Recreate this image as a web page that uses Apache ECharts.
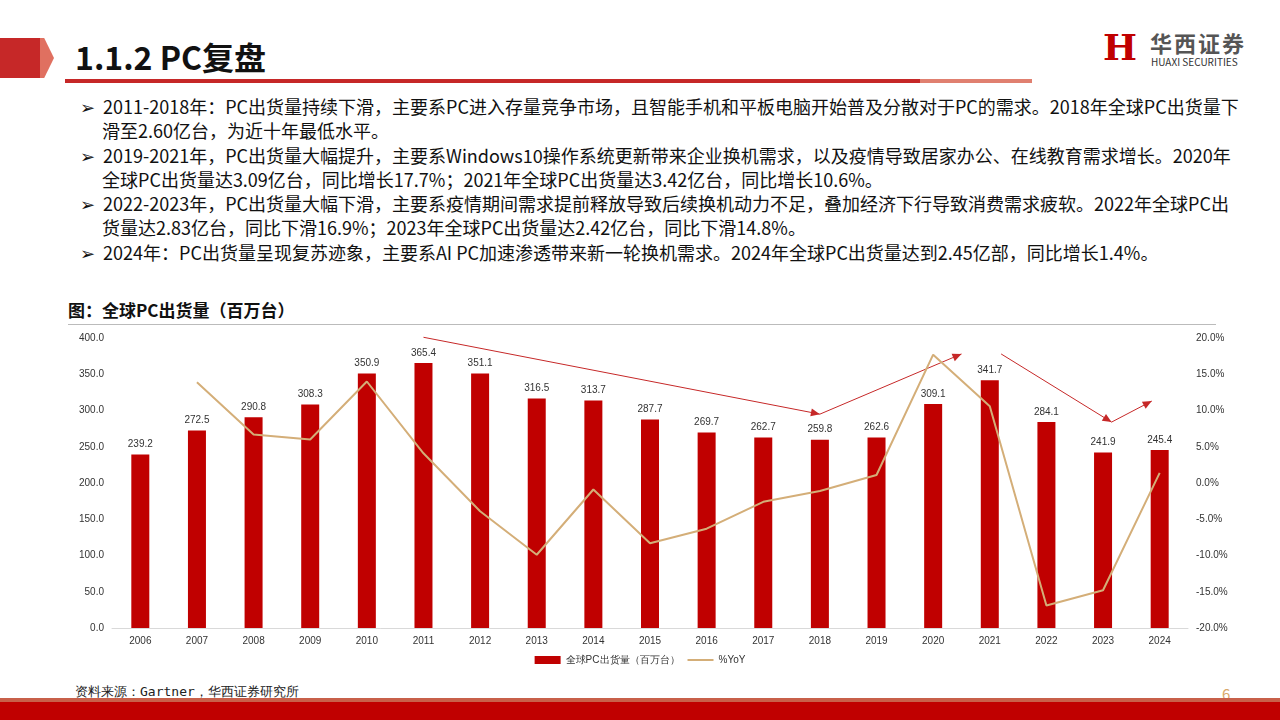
<!DOCTYPE html>
<html><head><meta charset="utf-8">
<script src="https://cdn.jsdelivr.net/npm/echarts@6/dist/echarts.min.js"></script>
<style>
body{margin:0;width:1280px;height:720px;overflow:hidden;background:#fff;font-family:"Noto Sans CJK SC","Noto Sans",sans-serif;position:relative}
.abs{position:absolute}
#txt{left:80px;top:94px;width:1160px;font-size:18px;line-height:24px;color:#111}
#txt p{margin:0 0 0.5px 0;padding-left:22px;text-indent:-22px}
</style></head><body>
<div class="abs" style="left:0;top:38px;width:52px;height:40px;background:#C62828;clip-path:polygon(0 0,80% 0,100% 50%,80% 100%,0 100%)"></div>
<div class="abs" style="left:40px;top:38px;width:14px;height:40px;background:#E07060;clip-path:polygon(0 0,30% 0,100% 50%,30% 100%,0 100%)"></div>
<div class="abs" style="left:75px;top:33px;font-size:32px;font-weight:bold;color:#111">1.1.2 PC复盘</div>
<div class="abs" style="left:65px;top:79px;width:855px;height:4px;background:#C62828"></div>
<div class="abs" style="left:920px;top:79px;width:112px;height:4px;background:#E08070"></div>
<div class="abs" style="left:1103px;top:28px;width:34px;height:38px;font-size:36px;font-weight:bold;color:#C00000;line-height:38px;font-family:'DejaVu Serif',serif">H</div>
<div class="abs" style="left:1150px;top:26px;font-size:22px;font-weight:bold;color:#555;letter-spacing:2px;font-family:'Noto Sans CJK SC'">华西证券</div>
<div class="abs" style="left:1151px;top:54px;font-size:10px;color:#333">HUAXI SECURITIES</div>
<div id="txt" class="abs">
<p>➢&nbsp;&nbsp;2011-2018年：PC出货量持续下滑，主要系PC进入存量竞争市场，且智能手机和平板电脑开始普及分散对于PC的需求。2018年全球PC出货量下滑至2.60亿台，为近十年最低水平。</p>
<p>➢&nbsp;&nbsp;2019-2021年，PC出货量大幅提升，主要系Windows10操作系统更新带来企业换机需求，以及疫情导致居家办公、在线教育需求增长。2020年全球PC出货量达3.09亿台，同比增长17.7%；2021年全球PC出货量达3.42亿台，同比增长10.6%。</p>
<p>➢&nbsp;&nbsp;2022-2023年，PC出货量大幅下滑，主要系疫情期间需求提前释放导致后续换机动力不足，叠加经济下行导致消费需求疲软。2022年全球PC出货量达2.83亿台，同比下滑16.9%；2023年全球PC出货量达2.42亿台，同比下滑14.8%。</p>
<p>➢&nbsp;&nbsp;2024年：PC出货量呈现复苏迹象，主要系AI PC加速渗透带来新一轮换机需求。2024年全球PC出货量达到2.45亿部，同比增长1.4%。</p>
</div>
<div class="abs" style="left:68px;top:297px;font-size:17px;font-weight:bold;color:#111">图：全球PC出货量（百万台）</div>
<div class="abs" style="left:68px;top:324px;width:1148px;height:1px;background:#bbb"></div>
<div id="c" class="abs" style="left:0;top:325px;width:1280px;height:355px"></div>
<div class="abs" style="left:75px;top:683px;font-size:13px;color:#222;font-family:'DejaVu Sans Mono',monospace">资料来源：Gartner，华西证券研究所</div>
<div class="abs" style="left:1222px;top:683px;font-size:15px;color:#D9A86C">6</div>
<div class="abs" style="left:0;top:698px;width:1280px;height:4px;background:#C8604A"></div>
<div class="abs" style="left:0;top:702px;width:1280px;height:18px;background:#C00000"></div>
<script>
const years=['2006','2007','2008','2009','2010','2011','2012','2013','2014','2015','2016','2017','2018','2019','2020','2021','2022','2023','2024'];
const shipments=[239.2,272.5,290.8,308.3,350.9,365.4,351.1,316.5,313.7,287.7,269.7,262.7,259.8,262.6,309.1,341.7,284.1,241.9,245.4];
const yoy=[null,13.9,6.7,6.0,14.0,4.1,-3.9,-9.9,-0.9,-8.3,-6.3,-2.6,-1.1,1.1,17.7,10.6,-16.9,-14.8,1.4];
// annotation arrows: [startYearIndex, startValue, endYearIndex, endValue]
const arrows=[[5,401,12,295],[12,295,14.5,378],[15.2,378,17.15,284],[17.15,284,17.86,313]];
const ch=echarts.init(document.getElementById('c'));
const lab={fontSize:10,color:'#333'};
ch.setOption({
 animation:false,
 grid:{left:112,right:92,top:13,bottom:52},
 legend:{bottom:10,itemWidth:26,itemHeight:8,textStyle:{fontSize:10,color:'#333'},data:[{name:'全球PC出货量（百万台）',icon:'rect'},{name:'%YoY',icon:'path://M0,4L26,4L26,6L0,6Z'}]},
 xAxis:{type:'category',data:years,axisTick:{show:false},axisLine:{lineStyle:{color:'#d9d9d9'}},axisLabel:lab},
 yAxis:[{type:'value',min:0,max:400,interval:50,splitLine:{show:false},axisLabel:{...lab,formatter:v=>v.toFixed(1)}},
  {type:'value',min:-20,max:20,interval:5,splitLine:{show:false},axisLabel:{...lab,formatter:v=>v.toFixed(1)+'%'}}],
 series:[{name:'全球PC出货量（百万台）',type:'bar',data:shipments,barWidth:18,itemStyle:{color:'#C00000'},
   label:{show:true,position:'top',fontSize:10,color:'#333',formatter:p=>p.value.toFixed(1)}},
  {name:'%YoY',type:'line',yAxisIndex:1,data:yoy,symbol:'none',lineStyle:{color:'#D4AE78',width:2},itemStyle:{color:'#D4AE78'}}]
});
function px(i,v){const a=ch.convertToPixel({xAxisIndex:0,yAxisIndex:0},[Math.floor(i),v]);const b=ch.convertToPixel({xAxisIndex:0,yAxisIndex:0},[Math.floor(i)+1,v]);return [a[0]+(b[0]-a[0])*(i-Math.floor(i)),a[1]];}
const g=[];
arrows.forEach(a=>{const s=px(a[0],a[1]),e=px(a[2],a[3]);const ang=Math.atan2(e[1]-s[1],e[0]-s[0]);const L=9,W=4;
 g.push({type:'line',shape:{x1:s[0],y1:s[1],x2:e[0],y2:e[1]},style:{stroke:'#C62828',lineWidth:1}});
 g.push({type:'polygon',shape:{points:[[e[0],e[1]],[e[0]-L*Math.cos(ang)+W*Math.sin(ang),e[1]-L*Math.sin(ang)-W*Math.cos(ang)],[e[0]-L*Math.cos(ang)-W*Math.sin(ang),e[1]-L*Math.sin(ang)+W*Math.cos(ang)]]},style:{fill:'#C62828'}});});
ch.setOption({graphic:g});
</script></body></html>
